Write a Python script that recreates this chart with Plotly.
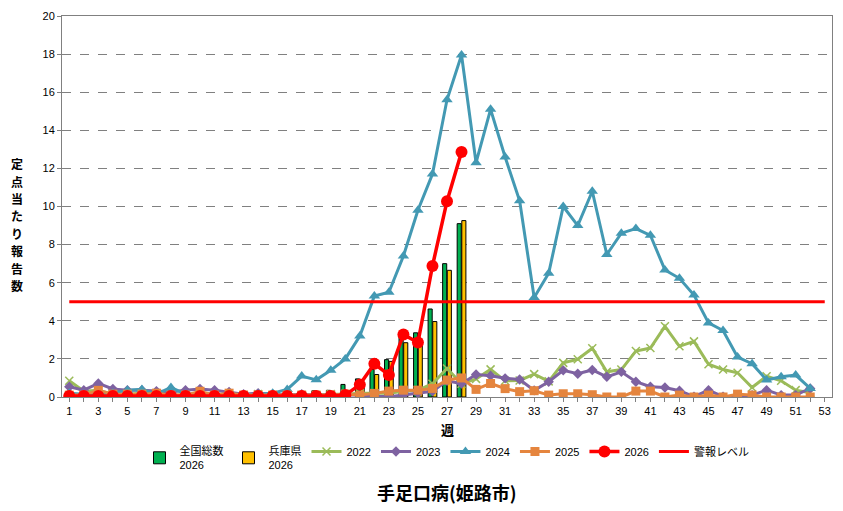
import plotly.graph_objects as go

weeks = list(range(1, 54))

# Bars (2026): 全国総数 and 兵庫県
nat_2026 = [0.15, 0.1, 0.1, 0.1, 0.1, 0.1, 0.1, 0.1, 0.1, 0.1, 0.1, 0.1, 0.1, 0.1, 0.1, 0.1, 0.15, 0.33, 0.35, 0.66,
            0.95, 1.45, 1.96, 3.2, 3.37, 4.62, 7.0, 9.1]
hyogo_2026 = [0.05, 0.05, 0.05, 0.05, 0.05, 0.05, 0.05, 0.05, 0.05, 0.05, 0.05, 0.05, 0.05, 0.05, 0.05, 0.05, 0.1, 0.15, 0.2, 0.25,
              0.5, 1.18, 1.87, 2.85, 2.8, 3.96, 6.65, 9.26]

y2022 = [0.85, 0.3, 0.35, 0.15, 0.15, 0.2, 0.2, 0.1, 0.1, 0.2, 0.15, 0.1, 0.1, 0.15, 0.1, 0.1, 0.1, 0.1, 0.15, 0.15,
         0.2, 0.2, 0.2, 0.3, 0.35, 0.7, 1.5, 0.7, 0.95, 1.45, 0.85, 0.87, 1.2, 0.82, 1.79, 1.98, 2.56, 1.32, 1.44, 2.41,
         2.57, 3.71, 2.66, 2.92, 1.72, 1.44, 1.27, 0.5, 1.09, 0.85, 0.36, 0.22]
y2023 = [0.54, 0.36, 0.71, 0.42, 0.36, 0.36, 0.31, 0.26, 0.36, 0.42, 0.36, 0.26, 0.15, 0.2, 0.15, 0.1, 0.15, 0.1, 0.1, 0.1,
         0.1, 0.02, 0.02, 0.1, 0.2, 0.3, 0.85, 0.7, 1.18, 1.12, 0.98, 0.92, 0.35, 0.8, 1.4, 1.22, 1.42, 1.06, 1.32, 0.8,
         0.54, 0.5, 0.33, 0.02, 0.36, 0.02, 0.0, 0.1, 0.36, 0.1, 0.1, 0.45]
y2024 = [0.2, 0.15, 0.15, 0.2, 0.36, 0.4, 0.15, 0.5, 0.15, 0.2, 0.15, 0.1, 0.1, 0.15, 0.2, 0.4, 1.1, 0.9, 1.4, 2.0,
         3.2, 5.3, 5.5, 7.4, 9.8, 11.7, 15.6, 17.95, 12.3, 15.1, 12.6, 10.3, 5.22, 6.5, 10.0, 9.0, 10.8, 7.48, 8.6, 8.84,
         8.49, 6.67, 6.23, 5.35, 3.89, 3.49, 2.1, 1.75, 0.89, 1.06, 1.15, 0.45]
y2025 = [0.1, 0.1, 0.35, 0.15, 0.15, 0.15, 0.2, 0.1, 0.1, 0.3, 0.1, 0.2, 0.1, 0.1, 0.1, 0.1, 0.1, 0.1, 0.1, 0.15,
         0.1, 0.19, 0.31, 0.36, 0.36, 0.45, 0.89, 1.0, 0.4, 0.71, 0.44, 0.28, 0.33, 0.1, 0.17, 0.17, 0.12, 0.0, 0.0, 0.31,
         0.31, 0.0, 0.1, 0.0, 0.1, 0.0, 0.15, 0.1, 0.0, 0.0, 0.0, 0.0]
y2026 = [0.05, 0.05, 0.05, 0.05, 0.05, 0.05, 0.05, 0.05, 0.05, 0.05, 0.05, 0.05, 0.05, 0.05, 0.05, 0.05, 0.05, 0.05, 0.05, 0.1,
         0.65, 1.74, 1.16, 3.28, 2.86, 6.88, 10.28, 12.86]
alarm_level = 5

y_title_chars = list("定点当たり報告数")

fig = go.Figure()

fig.add_trace(go.Bar(x=weeks[:len(nat_2026)], y=nat_2026, name="全国総数<br>2026",
                     marker=dict(color="#00B050", line=dict(color="black", width=1))))
fig.add_trace(go.Bar(x=weeks[:len(hyogo_2026)], y=hyogo_2026, name="兵庫県<br>2026",
                     marker=dict(color="#FFC000", line=dict(color="black", width=1))))

fig.add_trace(go.Scatter(x=weeks[:len(y2022)], y=y2022, name="2022", mode="lines+markers",
                         line=dict(color="#9BBB59", width=3),
                         marker=dict(symbol="x-thin", size=8, line=dict(color="#9BBB59", width=1.5))))
fig.add_trace(go.Scatter(x=weeks[:len(y2023)], y=y2023, name="2023", mode="lines+markers",
                         line=dict(color="#7E62A1", width=3),
                         marker=dict(symbol="diamond", size=8, color="#7E62A1")))
fig.add_trace(go.Scatter(x=weeks[:len(y2024)], y=y2024, name="2024", mode="lines+markers",
                         line=dict(color="#4399B3", width=3),
                         marker=dict(symbol="triangle-up", size=10, color="#4399B3")))
fig.add_trace(go.Scatter(x=weeks[:len(y2025)], y=y2025, name="2025", mode="lines+markers",
                         line=dict(color="#E5853E", width=3),
                         marker=dict(symbol="square", size=9, color="#E5853E")))
fig.add_trace(go.Scatter(x=weeks[:len(y2026)], y=y2026, name="2026", mode="lines+markers",
                         line=dict(color="#FF0000", width=3.5),
                         marker=dict(symbol="circle", size=12, color="#FF0000")))
fig.add_trace(go.Scatter(x=[weeks[0], weeks[-1]], y=[alarm_level, alarm_level], name="警報レベル", mode="lines",
                         line=dict(color="#FF0000", width=3)))

tick_text = [str(w) if w % 2 == 1 else "" for w in weeks]

plot_top, plot_bottom, plot_left, plot_right = 13, 397, 62, 833
def py(px):
    return (plot_bottom - px) / (plot_bottom - plot_top)
def pxx(px):
    return (px - plot_left) / (plot_right - plot_left)

annotations = [
    dict(text="<b>週</b>", x=0.5, xref="paper", y=py(430), yref="paper", yanchor="middle", showarrow=False,
         font=dict(family="Noto Sans CJK JP", size=13)),
    dict(text="<b>手足口病(姫路市)</b>", x=0.5, xref="paper", y=py(493), yref="paper", yanchor="middle",
         showarrow=False, font=dict(family="Noto Sans CJK JP", size=18)),
]
for i, ch in enumerate(y_title_chars):
    annotations.append(dict(text="<b>" + ch + "</b>", x=pxx(17), xref="paper", y=py(162 + i * 17.5), yref="paper",
                            xanchor="center", yanchor="middle", showarrow=False,
                            font=dict(family="Noto Sans CJK JP", size=12)))

fig.update_layout(
    width=843, height=511,
    margin=dict(l=62, r=10, t=13, b=114),
    plot_bgcolor="white", paper_bgcolor="white",
    barmode="group", bargap=0.36, bargroupgap=0.12,
    font=dict(family="Liberation Sans, Arial, sans-serif", size=11, color="black"),
    showlegend=True,
    legend=dict(orientation="h", x=0.5, xanchor="center", y=-0.105, yanchor="top",
                font=dict(family="Liberation Sans, Noto Sans CJK JP", size=11),
                itemwidth=30, tracegroupgap=0, traceorder="normal"),
    xaxis=dict(range=[0.5, 53.5], tickmode="array", tickvals=weeks, ticktext=tick_text,
               ticks="outside", ticklen=4, tickcolor="#808080",
               showline=True, linecolor="#808080", mirror=True, showgrid=False,
               tickfont=dict(size=11), zeroline=False),
    yaxis=dict(range=[0, 20], dtick=2, tickmode="linear", ticks="outside", ticklen=4, tickcolor="#808080",
               showline=True, linecolor="#808080", mirror=True,
               showgrid=True, gridcolor="#808080", griddash="dash", gridwidth=1,
               zeroline=False, tickfont=dict(size=11)),
    annotations=annotations,
)

fig.write_html("out.html")
